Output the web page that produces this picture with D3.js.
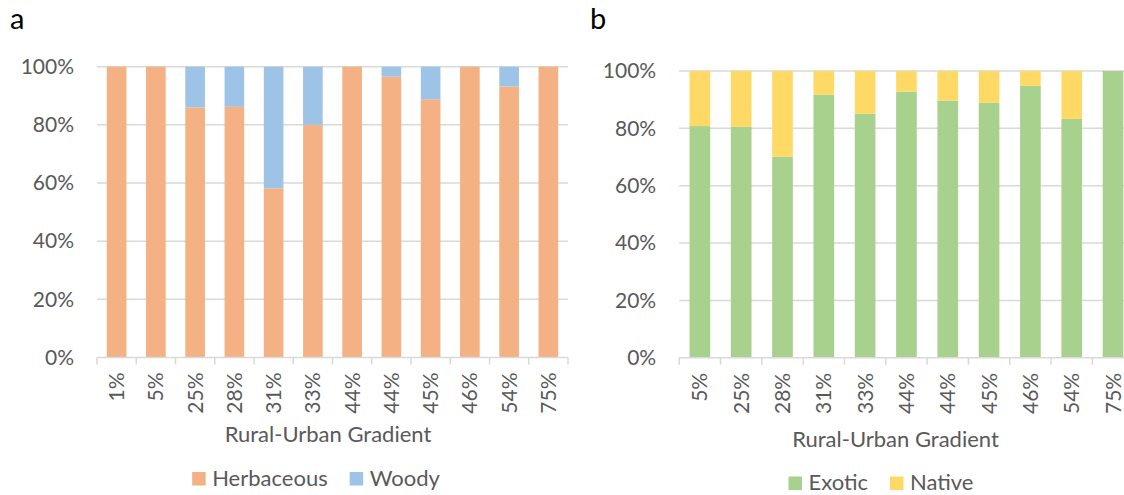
<!DOCTYPE html>
<html>
<head>
<meta charset="utf-8">
<script src="https://cdn.jsdelivr.net/npm/d3@7"></script>
<style>
  html, body { margin: 0; padding: 0; background: #fff; }
  svg { display: block; font-family: Lato, "Open Sans", sans-serif; }
  text { fill: #595959; }
</style>
</head>
<body>
<svg id="chart" width="1124" height="495"></svg>
<script>
// Panel a: growth form share along the rural-urban gradient
const growthSites = ["1%", "5%", "25%", "28%", "31%", "33%", "44%", "44%", "45%", "46%", "54%", "75%"];
const herbaceous = [100, 100, 86.0, 86.2, 58.2, 80.0, 100, 96.6, 88.8, 100, 93.2, 100];
const woody      = [0, 0, 14.0, 13.8, 41.8, 20.0, 0, 3.4, 11.2, 0, 6.8, 0];

// Panel b: origin share along the rural-urban gradient
const originSites = ["5%", "25%", "28%", "31%", "33%", "44%", "44%", "45%", "46%", "54%", "75%"];
const exotic = [80.8, 80.5, 70.1, 91.7, 85.1, 92.8, 89.7, 88.9, 94.8, 83.3, 100];
const native = [19.2, 19.5, 29.9, 8.3, 14.9, 7.2, 10.3, 11.1, 5.2, 16.7, 0];

const yTicks = [0, 20, 40, 60, 80, 100];
const axisTitle = "Rural-Urban Gradient";

const svg = d3.select("#chart");
const TICK_FONT = 21;
const LABEL_FONT = 22;

function drawPanel(cfg) {
  const n = cfg.sites.length;
  const idx = d3.range(n);
  const x = d3.scaleBand().domain(idx).range([cfg.x0, cfg.x1]).paddingInner(0.5).paddingOuter(0.25);
  const y = d3.scaleLinear().domain([0, 100]).range([cfg.y0, cfg.y1]);
  const g = svg.append("g");

  // horizontal gridlines
  g.append("g").selectAll("line").data(yTicks.filter(t => t > 0)).join("line")
    .attr("x1", cfg.x0).attr("x2", cfg.x1)
    .attr("y1", d => y(d)).attr("y2", d => y(d))
    .attr("stroke", "#d9d9d9").attr("stroke-width", 1.5);

  // y axis labels
  const yAxis = g.append("g").attr("transform", `translate(${cfg.x0},0)`)
    .call(d3.axisLeft(y).tickValues(yTicks).tickFormat(d => d + "%").tickSize(0).tickPadding(23));
  yAxis.select(".domain").remove();
  yAxis.selectAll("text").attr("font-size", TICK_FONT).attr("font-family", "Lato").style("fill", "#595959");

  // stacked bars
  const stack = idx.map(i => ({ i, lo: cfg.lower[i], hi: cfg.upper[i] }));
  g.append("g").selectAll("rect.lo").data(stack).join("rect")
    .attr("x", d => x(d.i)).attr("width", x.bandwidth())
    .attr("y", d => y(d.lo)).attr("height", d => y(0) - y(d.lo))
    .attr("fill", cfg.colors[0]);
  g.append("g").selectAll("rect.hi").data(stack).join("rect")
    .attr("x", d => x(d.i)).attr("width", x.bandwidth())
    .attr("y", d => y(d.lo + d.hi)).attr("height", d => y(d.lo) - y(d.lo + d.hi))
    .attr("fill", cfg.colors[1]);

  // category axis line with ticks between categories
  const step = x.step();
  const bounds = d3.range(n + 1).map(k => cfg.x0 + k * step);
  g.append("line").attr("x1", cfg.x0).attr("x2", cfg.x1)
    .attr("y1", y(0)).attr("y2", y(0))
    .attr("stroke", "#d9d9d9").attr("stroke-width", 1.5);
  g.append("g").selectAll("line").data(bounds).join("line")
    .attr("x1", d => d).attr("x2", d => d)
    .attr("y1", y(0)).attr("y2", y(0) + 7)
    .attr("stroke", "#d9d9d9").attr("stroke-width", 1.5);

  // rotated category labels
  const xAxis = g.append("g").attr("transform", `translate(0,${y(0)})`)
    .call(d3.axisBottom(x).tickFormat(i => cfg.sites[i]).tickSize(0));
  xAxis.select(".domain").remove();
  xAxis.selectAll("text")
    .attr("font-size", TICK_FONT).attr("font-family", "Lato").style("fill", "#595959")
    .attr("text-anchor", "end")
    .attr("transform", "translate(0,15) rotate(-90)")
    .attr("x", 0).attr("y", 0).attr("dy", "0.36em");

  // axis title
  g.append("text").attr("x", cfg.titleX).attr("y", cfg.titleY)
    .attr("text-anchor", "middle").attr("font-size", LABEL_FONT).text(axisTitle);

  // panel letter
  svg.append("text").attr("x", cfg.letterX).attr("y", 29).attr("font-size", 29)
    .style("fill", "#000").text(cfg.letter);

  // legend
  const lg = g.append("g");
  let cx = 0;
  cfg.names.forEach((name, k) => {
    lg.append("rect").attr("x", cx).attr("y", -13.5).attr("width", 13.5).attr("height", 13.5)
      .attr("fill", cfg.colors[k]);
    const t = lg.append("text").attr("x", cx + 20).attr("y", 0).attr("font-size", LABEL_FONT).text(name);
    cx += 20 + t.node().getComputedTextLength() + 22;
  });
  const w = cx - 22;
  lg.attr("transform", `translate(${cfg.legendX - w / 2},${cfg.legendY})`);
}

drawPanel({
  sites: growthSites, lower: herbaceous, upper: woody,
  names: ["Herbaceous", "Woody"], colors: ["#f4b183", "#9dc3e6"],
  x0: 97, x1: 568, y0: 357.5, y1: 66.7,
  titleX: 328, titleY: 442, legendX: 316, legendY: 485.5,
  letter: "a", letterX: 10
});

drawPanel({
  sites: originSites, lower: exotic, upper: native,
  names: ["Exotic", "Native"], colors: ["#a9d18e", "#ffd966"],
  x0: 679.2, x1: 1133.7, y0: 357.8, y1: 71,
  titleX: 895.5, titleY: 447, legendX: 881, legendY: 490,
  letter: "b", letterX: 590
});
</script>
</body>
</html>
